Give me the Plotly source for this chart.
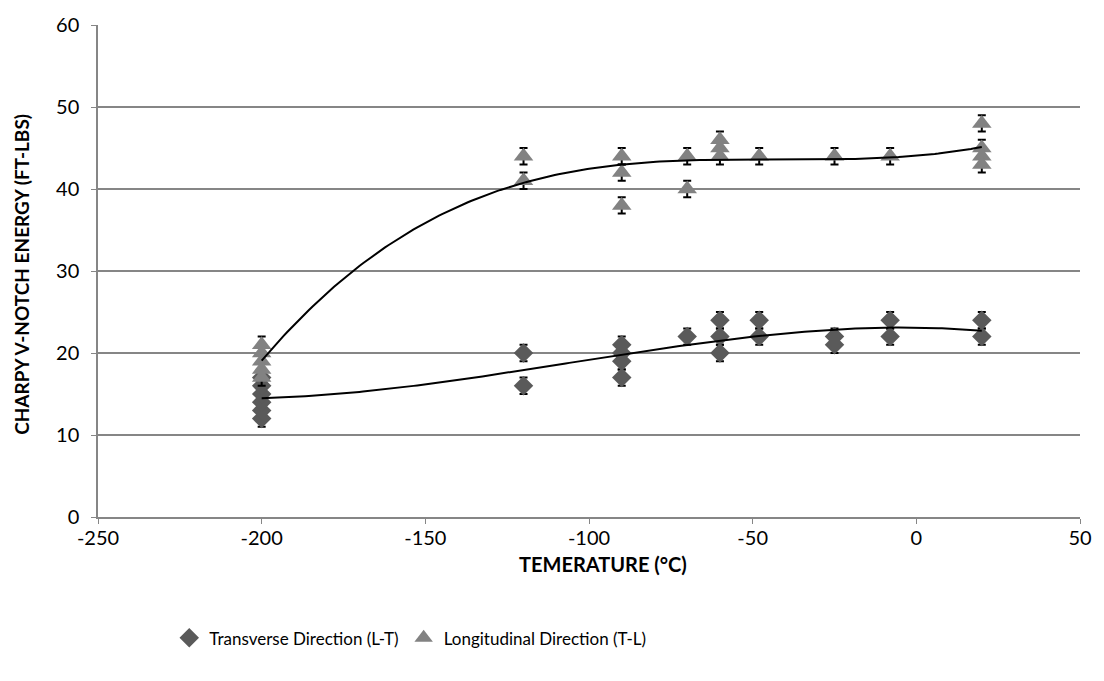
import numpy as np
import plotly.graph_objects as go

# Charpy impact results: test temperature (°C) and absorbed energy (ft-lbs)
transverse_temp = [-200, -200, -200, -200, -200, -200,
                   -120, -120,
                   -90, -90, -90, -90,
                   -70,
                   -60, -60, -60,
                   -48, -48,
                   -25, -25,
                   -8, -8,
                   20, 20]
transverse_energy = [12, 13, 14, 15, 16, 17,
                     20, 16,
                     21, 20, 19, 17,
                     22,
                     24, 22, 20,
                     24, 22,
                     22, 21,
                     24, 22,
                     24, 22]

longitudinal_temp = [-200, -200, -200, -200, -200,
                     -120, -120,
                     -90, -90, -90,
                     -70, -70,
                     -60, -60, -60,
                     -48,
                     -25,
                     -8,
                     20, 20, 20, 20]
longitudinal_energy = [17, 18, 19, 20, 21,
                       44, 41,
                       44, 42, 38,
                       44, 40,
                       44, 45, 46,
                       44,
                       44,
                       44,
                       48, 45, 44, 43]

energy_error = 1.0  # ± scatter shown on each result

x_ticks = [-250, -200, -150, -100, -50, 0, 50]
x_tick_labels = ["-250", "-200", "-150", "-100", "-50", "0", "50"]
y_ticks = [0, 10, 20, 30, 40, 50, 60]

x_title = "TEMERATURE (°C)"
y_title = "CHARPY V-NOTCH ENERGY (FT-LBS)"

FONT = "Lato, 'Open Sans', sans-serif"
GRID = "#868686"

fig = go.Figure()

fig.add_trace(go.Scatter(
    x=transverse_temp, y=transverse_energy, mode="markers",
    name="Transverse Direction (L-T)",
    marker=dict(symbol="diamond", size=15, color="#5a5a5a"),
    error_y=dict(type="constant", value=energy_error, color="black",
                 thickness=2, width=4),
))
fig.add_trace(go.Scatter(
    x=longitudinal_temp, y=longitudinal_energy, mode="markers",
    name="Longitudinal Direction (T-L)",
    marker=dict(symbol="triangle-up", size=17, color="#828282"),
    error_y=dict(type="constant", value=energy_error, color="black",
                 thickness=2, width=4),
))

# Polynomial trend lines fitted to each series
xs = np.linspace(-200, 20, 200)
for tx, ty in [(transverse_temp, transverse_energy),
               (longitudinal_temp, longitudinal_energy)]:
    coef = np.polyfit(tx, ty, 3)
    fig.add_trace(go.Scatter(
        x=xs, y=np.polyval(coef, xs), mode="lines",
        line=dict(color="black", width=2), showlegend=False,
        hoverinfo="skip",
    ))

fig.update_layout(
    width=1104, height=681,
    margin=dict(l=98, r=23, t=17, b=164),
    paper_bgcolor="white", plot_bgcolor="white",
    font=dict(family=FONT, size=20, color="black"),
    legend=dict(orientation="h", x=0.318, xanchor="center", y=-0.21,
                yanchor="top", font=dict(size=17), itemwidth=30,
                tracegroupgap=0),
    showlegend=True,
    annotations=[
        dict(text=f"<b>{x_title}</b>", xref="paper", yref="paper",
             x=0.514, y=-0.096, xanchor="center", yanchor="middle",
             showarrow=False, font=dict(size=20)),
        dict(text=f"<b>{y_title}</b>", xref="paper", yref="paper",
             x=-0.0775, y=0.494, xanchor="center", yanchor="middle",
             textangle=-90, showarrow=False, font=dict(size=19)),
    ],
)
fig.update_xaxes(
    range=[-250, 50], tickvals=x_ticks, ticktext=x_tick_labels,
    showgrid=False,
    showline=True, linecolor=GRID, linewidth=1.5,
    ticks="outside", ticklen=5, tickcolor=GRID,
    zeroline=False, tickfont=dict(size=20), ticklabelstandoff=-3,
)
fig.update_yaxes(
    range=[0, 60], tickvals=y_ticks, showgrid=True, gridcolor=GRID,
    gridwidth=1.5, showline=True, linecolor=GRID, linewidth=1.5,
    ticks="outside", ticklen=5, tickcolor=GRID,
    zeroline=False, tickfont=dict(size=20), ticklabelstandoff=8,
)

fig.write_html("out.html")
